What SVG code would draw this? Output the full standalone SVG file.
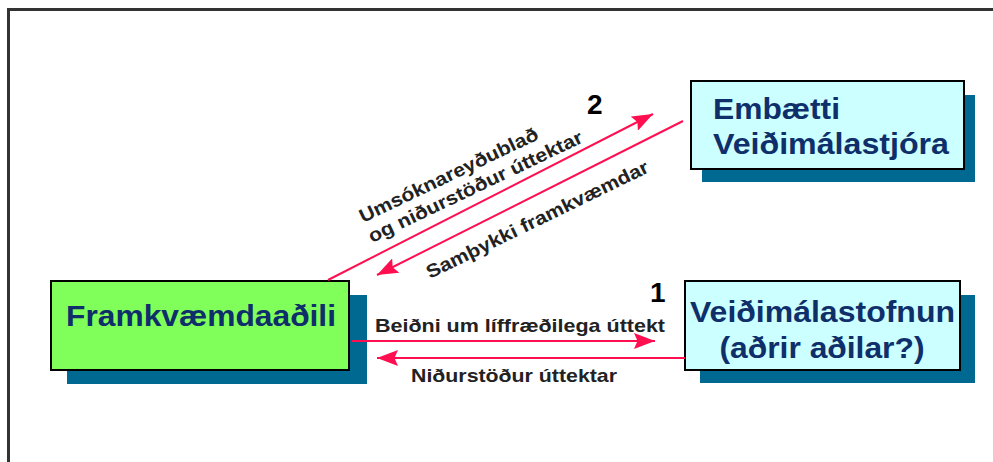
<svg xmlns="http://www.w3.org/2000/svg" width="993" height="462" viewBox="0 0 993 462">
<style>
text{font-family:"Liberation Sans",Arial,sans-serif;font-weight:bold}
.box{stroke:#000;stroke-width:2}
.sh{fill:#006991}
.cyan{fill:#ccffff}
.nm{fill:#0f2f6b;font-size:30px}
.lb{fill:#222;font-size:19px}
.n{fill:#000;font-size:28px}
.c{stroke:#ff0f50;stroke-width:2;fill:none}
.h{fill:#ff0f50}
</style>
<defs>
<marker id="a" markerUnits="userSpaceOnUse" markerWidth="22" markerHeight="16" refX="21" refY="8" orient="auto"><path class="h" d="M0 0L21 8L0 16L3.500 8Z"/></marker>
</defs>
<rect width="993" height="462" fill="#fff"/>
<path d="M8.500 462V9.500H993" fill="none" stroke="#333" stroke-width="3"/>
<g id="node-framkvaemdaadili">
<rect class="sh" x="67" y="295" width="300" height="89"/>
<rect class="box" x="51" y="281" width="298" height="89" fill="#80ff5a"/>
<text class="nm" x="66" y="326" textLength="270" lengthAdjust="spacingAndGlyphs">Framkvæmdaaðili</text>
</g>
<g id="node-embaetti">
<rect class="sh" x="702" y="95" width="273" height="87"/>
<rect class="box cyan" x="691" y="81" width="273" height="88"/>
<text class="nm" x="713" y="119" textLength="127" lengthAdjust="spacingAndGlyphs">Embætti</text>
<text class="nm" x="713" y="154" textLength="236" lengthAdjust="spacingAndGlyphs">Veiðimálastjóra</text>
</g>
<g id="node-veidimalastofnun">
<rect class="sh" x="700" y="295" width="275" height="88"/>
<rect class="box cyan" x="685" y="281" width="275" height="89"/>
<text class="nm" x="690" y="322" textLength="265" lengthAdjust="spacingAndGlyphs">Veiðimálastofnun</text>
<text class="nm" x="822" y="358" text-anchor="middle" textLength="205" lengthAdjust="spacingAndGlyphs">(aðrir aðilar?)</text>
</g>
<g id="connectors">
<path class="c" d="M328 280L653 114" marker-end="url(#a)"/>
<path class="c" d="M683 121L377 275" marker-end="url(#a)"/>
<path class="c" d="M352 341H655" marker-end="url(#a)"/>
<path class="c" d="M685 358H377" marker-end="url(#a)"/>
</g>
<g id="labels">
<text class="lb" transform="translate(363 223) rotate(-25.500)" textLength="196" lengthAdjust="spacingAndGlyphs">Umsóknareyðublað</text>
<text class="lb" transform="translate(372 243) rotate(-25.500)" textLength="235" lengthAdjust="spacingAndGlyphs">og niðurstöður úttektar</text>
<text class="lb" transform="translate(430 279) rotate(-26)" textLength="245" lengthAdjust="spacingAndGlyphs">Samþykki framkvæmdar</text>
<text class="lb" x="375" y="332" textLength="290" lengthAdjust="spacingAndGlyphs">Beiðni um líffræðilega úttekt</text>
<text class="lb" x="411" y="382" textLength="206" lengthAdjust="spacingAndGlyphs">Niðurstöður úttektar</text>
<text class="n" x="587" y="114">2</text>
<text class="n" x="650" y="302">1</text>
</g>
</svg>
